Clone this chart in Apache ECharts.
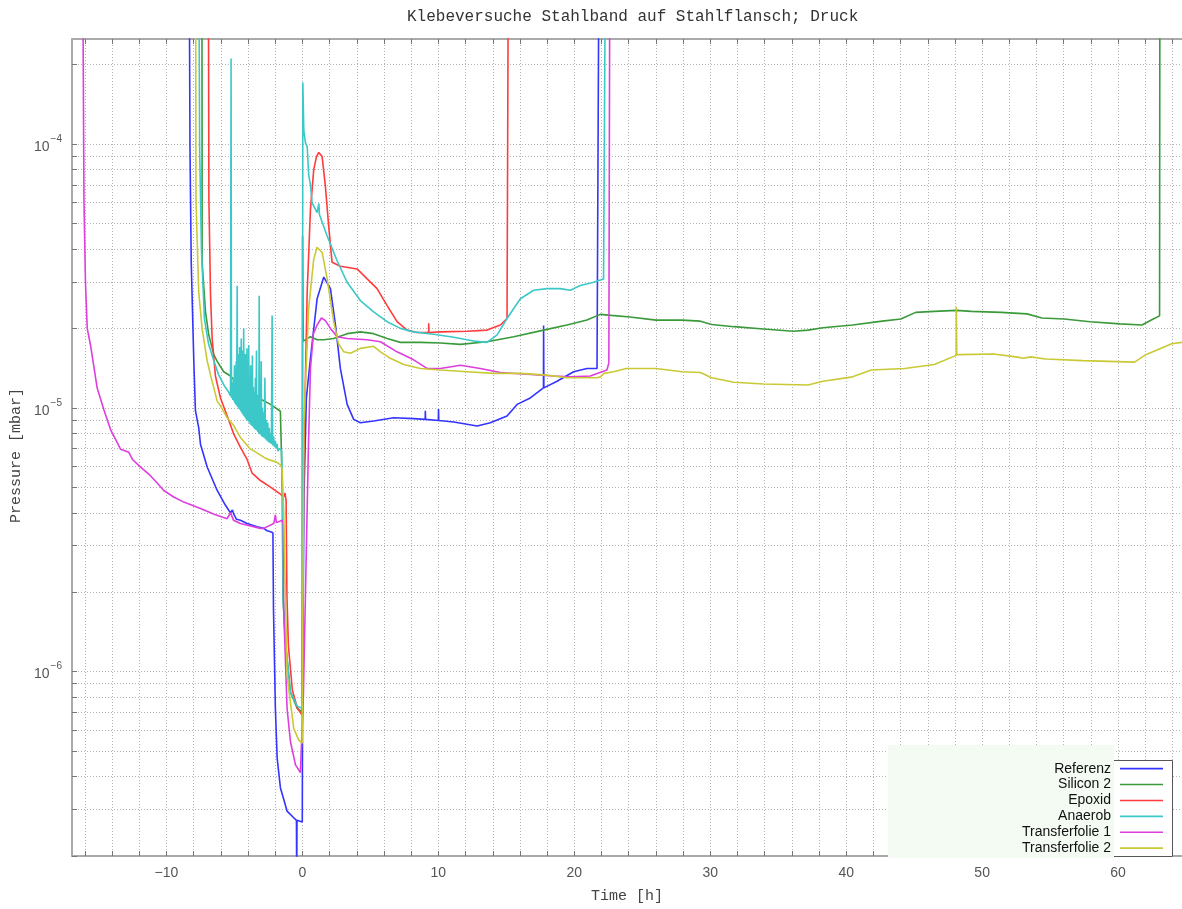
<!DOCTYPE html>
<html><head><meta charset="utf-8">
<script src="https://cdn.jsdelivr.net/npm/echarts@6/dist/echarts.min.js"></script>
<style>html,body{margin:0;padding:0;background:#fff}#c{width:1182px;height:909px}</style>
</head><body><div id="c"></div>
<script>
// ---- data: [time in h, pressure in mbar] ----
const seriesNames = ['Referenz','Silicon 2','Epoxid','Anaerob','Transferfolie 1','Transferfolie 2'];
const xTickLabels = [-10,0,10,20,30,40,50,60];
const yTickLabels = [1e-6,1e-5,1e-4];

const referenz = [[-8.31,3e-4],[-8.27,9.5e-5],[-8.18,3.56e-5],[-7.99,1.5e-5],[-7.87,9.75e-6],[-7.63,8.41e-6],[-7.5,7.28e-6],[-7.0,5.95e-6],[-6.27,4.86e-6],[-5.66,4.27e-6],[-5.42,4.09e-6],[-5.29,4.0e-6],[-5.15,4.1e-6],[-5.05,3.95e-6],[-4.85,3.78e-6],[-4.56,3.75e-6],[-4.07,3.64e-6],[-3.33,3.54e-6],[-2.85,3.49e-6],[-2.6,3.42e-6],[-2.35,3.39e-6],[-2.17,3.36e-6],[-2.13,1.73e-6],[-1.99,7.26e-7],[-1.86,4.71e-7],[-1.62,3.63e-7],[-1.13,2.96e-7],[-0.66,2.8e-7],[-0.44,2.73e-7],[-0.42,1.5e-7],[-0.4,2.73e-7],[-0.29,2.7e-7],[-0.01,2.69e-7],[0.01,8.1e-7],[0.11,4.59e-6],[0.29,1.09e-5],[0.59,1.54e-5],[1.08,2.59e-5],[1.57,3.13e-5],[1.69,3.15e-5],[2.06,2.83e-5],[2.43,2.06e-5],[2.79,1.41e-5],[3.29,1.03e-5],[3.77,9.04e-6],[4.26,8.78e-6],[5.24,8.91e-6],[6.71,9.17e-6],[8.18,9.1e-6],[9.03,9.04e-6],[9.04,9.75e-6],[9.06,9.04e-6],[10.0,8.95e-6],[10.01,9.9e-6],[10.03,8.95e-6],[11.13,8.83e-6],[12.85,8.53e-6],[13.82,8.78e-6],[15.05,9.31e-6],[15.79,1.03e-5],[16.76,1.09e-5],[17.73,1.19e-5],[17.74,2.05e-5],[17.76,1.19e-5],[18.73,1.26e-5],[19.95,1.37e-5],[20.93,1.41e-5],[21.67,1.41e-5],[21.79,3e-4]];

const silicon2 = [[-7.39,3e-4],[-7.38,9.5e-5],[-7.38,3.56e-5],[-7.13,2.31e-5],[-6.89,1.89e-5],[-6.52,1.59e-5],[-6.27,1.5e-5],[-5.79,1.37e-5],[-5.29,1.32e-5],[-5.05,1.28e-5],[-4.07,1.16e-5],[-3.09,1.08e-5],[-2.35,1.03e-5],[-1.62,9.7e-6],[-1.49,9.6e-6],[-1.47,4.6e-6],[-1.43,1.94e-6],[-1.25,1.29e-6],[-0.88,8.35e-7],[-0.39,7.26e-7],[-0.02,7.03e-7],[0.01,4.47e-5],[0.06,1.79e-5],[0.59,1.86e-5],[1.08,1.81e-5],[1.57,1.81e-5],[2.3,1.83e-5],[3.29,1.91e-5],[4.26,1.94e-5],[5.24,1.91e-5],[6.23,1.83e-5],[7.21,1.77e-5],[8.68,1.77e-5],[10.15,1.76e-5],[11.62,1.74e-5],[13.58,1.78e-5],[15.54,1.86e-5],[17.74,1.97e-5],[19.46,2.06e-5],[20.93,2.15e-5],[21.91,2.26e-5],[22.72,2.24e-5],[24.1,2.21e-5],[26.01,2.15e-5],[27.92,2.15e-5],[29.28,2.13e-5],[30.1,2.07e-5],[31.74,2.03e-5],[33.92,1.99e-5],[36.1,1.95e-5],[37.2,1.97e-5],[38.29,2.01e-5],[40.47,2.06e-5],[42.65,2.13e-5],[44.02,2.17e-5],[45.11,2.30e-5],[46.48,2.32e-5],[48.11,2.34e-5],[49.21,2.32e-5],[51.39,2.30e-5],[53.3,2.27e-5],[54.39,2.19e-5],[56.03,2.17e-5],[57.94,2.12e-5],[60.13,2.08e-5],[61.76,2.06e-5],[62.58,2.17e-5],[63.05,2.23e-5],[63.07,3e-4]];

const epoxid = [[-6.91,3e-4],[-6.88,6.16e-5],[-6.76,2.67e-5],[-6.64,1.83e-5],[-6.4,1.32e-5],[-6.03,1.09e-5],[-5.54,9.33e-6],[-5.05,7.94e-6],[-4.56,7.08e-6],[-4.07,6.37e-6],[-3.7,5.65e-6],[-3.09,5.3e-6],[-2.35,5.0e-6],[-1.62,4.71e-6],[-1.38,4.59e-6],[-1.28,4.75e-6],[-1.2,4.45e-6],[-1.14,1.94e-6],[-1.03,1.25e-6],[-0.74,8.5e-7],[-0.37,7.26e-7],[-0.02,6.84e-7],[0.1,6.49e-6],[0.35,2.75e-5],[0.59,5.65e-5],[0.83,7.98e-5],[1.03,8.93e-5],[1.2,9.29e-5],[1.45,8.96e-5],[1.69,6.91e-5],[1.93,4.89e-5],[2.18,3.56e-5],[2.79,3.44e-5],[4.02,3.36e-5],[4.76,3.08e-5],[5.49,2.83e-5],[6.23,2.44e-5],[6.96,2.12e-5],[7.7,1.97e-5],[8.43,1.93e-5],[9.28,1.93e-5],[9.29,2.09e-5],[9.3,1.93e-5],[10.15,1.94e-5],[12.11,1.95e-5],[13.58,1.97e-5],[14.56,2.06e-5],[15.05,2.18e-5],[15.13,3e-4]];

const anaerob = [[-7.6,3e-4],[-7.56,9.5e-5],[-7.43,3.99e-5],[-7.21,2.18e-5],[-6.91,1.75e-5],[-6.54,1.52e-5],[-6.18,1.34e-5],[-5.74,1.21e-5],[-5.44,1.15e-5],
[-5.29,1.11e-5],[-5.25,2.11e-4],[-5.22,1.09e-5],[-5.16,1.25e-5],[-5.12,1.07e-5],[-5.07,1.3e-5],[-5.03,1.06e-5],[-5.0,1.45e-5],[-4.97,1.04e-5],[-4.93,1.38e-5],[-4.9,1.03e-5],[-4.87,1.5e-5],[-4.84,1.02e-5],[-4.8,2.9e-5],[-4.77,1.01e-5],[-4.74,1.6e-5],[-4.71,1.0e-5],[-4.68,1.45e-5],[-4.65,9.9e-6],[-4.62,1.7e-5],[-4.59,9.8e-6],[-4.56,1.55e-5],[-4.53,9.7e-6],[-4.5,1.83e-5],[-4.47,9.6e-6],[-4.44,1.4e-5],[-4.41,9.5e-6],[-4.38,1.65e-5],[-4.35,9.4e-6],[-4.32,2.0e-5],[-4.29,9.3e-6],[-4.26,1.45e-5],[-4.23,9.2e-6],[-4.2,1.6e-5],[-4.17,9.1e-6],[-4.14,1.3e-5],[-4.11,9.0e-6],[-4.08,1.68e-5],[-4.05,8.95e-6],[-4.02,1.35e-5],[-3.98,8.9e-6],[-3.95,1.73e-5],[-3.92,8.8e-6],[-3.88,1.3e-5],[-3.85,8.7e-6],[-3.81,1.45e-5],[-3.78,8.6e-6],[-3.74,1.25e-5],[-3.71,8.55e-6],[-3.68,1.58e-5],[-3.65,8.5e-6],[-3.61,1.2e-5],[-3.58,8.4e-6],[-3.54,1.15e-5],[-3.51,8.3e-6],[-3.46,1.3e-5],[-3.42,8.25e-6],[-3.38,1.65e-5],[-3.35,8.2e-6],[-3.31,1.12e-5],[-3.28,8.1e-6],[-3.24,1.1e-5],[-3.21,8.0e-6],[-3.18,2.66e-5],[-3.15,7.95e-6],[-3.1,1.05e-5],[-3.07,7.9e-6],[-3.03,1.5e-5],[-3.0,7.8e-6],[-2.95,1.0e-5],[-2.91,7.75e-6],[-2.86,9.6e-6],[-2.82,7.7e-6],[-2.76,1.3e-5],[-2.72,7.6e-6],[-2.66,9.0e-6],[-2.61,7.5e-6],[-2.55,8.8e-6],[-2.5,7.4e-6],[-2.44,8.4e-6],[-2.39,7.35e-6],[-2.33,8.0e-6],[-2.28,7.3e-6],[-2.23,2.24e-5],[-2.19,7.2e-6],[-2.12,7.8e-6],[-2.06,7.1e-6],[-1.99,7.5e-6],[-1.93,7.0e-6],[-1.86,7.3e-6],[-1.8,6.85e-6],[-1.74,7.0e-6],[-1.66,6.9e-6],[-1.6,7.1e-6],[-1.53,6.9e-6],
[-1.48,4.6e-6],[-1.43,1.94e-6],[-1.25,1.29e-6],[-0.88,8.35e-7],[-0.39,7.4e-7],[-0.06,7.26e-7],[-0.02,8.1e-7],
[0.03,1.71e-4],[0.1,1.13e-4],[0.22,1.01e-4],[0.35,9.77e-5],[0.46,7.64e-5],[0.59,7.02e-5],[0.71,5.98e-5],[1.08,5.49e-5],[1.21,5.95e-5],[1.25,5.4e-5],[1.32,5.33e-5],[1.82,4.48e-5],[2.55,3.61e-5],[3.29,2.99e-5],[4.26,2.55e-5],[5.24,2.31e-5],[6.23,2.12e-5],[7.21,2.0e-5],[8.18,1.94e-5],[9.65,1.90e-5],[11.13,1.85e-5],[12.6,1.79e-5],[13.58,1.77e-5],[14.32,1.89e-5],[15.05,2.18e-5],[16.03,2.59e-5],[17.01,2.79e-5],[17.99,2.83e-5],[18.97,2.83e-5],[19.71,2.79e-5],[20.44,2.91e-5],[21.42,2.99e-5],[22.15,3.08e-5],[22.26,3e-4]];

const transferfolie1 = [[-16.14,3e-4],[-16.07,6.16e-5],[-15.96,3.0e-5],[-15.83,2.0e-5],[-15.59,1.73e-5],[-15.1,1.19e-5],[-14.6,9.8e-6],[-14.12,8.29e-6],[-13.38,6.97e-6],[-12.77,6.78e-6],[-12.5,6.37e-6],[-11.91,5.96e-6],[-11.3,5.61e-6],[-10.7,5.2e-6],[-10.2,4.86e-6],[-9.5,4.6e-6],[-8.73,4.39e-6],[-7.5,4.15e-6],[-6.5,3.95e-6],[-5.54,3.8e-6],[-5.29,4.0e-6],[-5.07,3.75e-6],[-4.56,3.64e-6],[-3.09,3.49e-6],[-2.85,3.49e-6],[-2.11,3.64e-6],[-1.99,3.93e-6],[-1.91,3.67e-6],[-1.49,3.75e-6],[-1.4,3.6e-6],[-1.38,1.73e-6],[-1.13,7.26e-7],[-0.88,5.42e-7],[-0.51,4.43e-7],[-0.15,4.14e-7],[-0.02,4.14e-7],[0.07,8.1e-7],[0.22,1.93e-6],[0.44,7.08e-6],[0.59,1.41e-5],[0.81,1.91e-5],[1.08,2.06e-5],[1.4,2.19e-5],[1.69,2.14e-5],[2.06,2.0e-5],[2.55,1.86e-5],[3.29,1.83e-5],[4.76,1.81e-5],[5.74,1.78e-5],[6.96,1.63e-5],[8.18,1.52e-5],[9.17,1.41e-5],[10.15,1.41e-5],[11.62,1.45e-5],[13.09,1.41e-5],[14.56,1.36e-5],[16.52,1.34e-5],[18.48,1.32e-5],[19.71,1.31e-5],[21.18,1.32e-5],[22.4,1.39e-5],[22.54,1.48e-5],[22.6,3e-4]];

const transferfolie2 = [[-7.85,3e-4],[-7.83,6.16e-5],[-7.63,2.75e-5],[-7.38,2.0e-5],[-7.0,1.5e-5],[-6.76,1.33e-5],[-6.52,1.19e-5],[-6.27,1.06e-5],[-6.03,1.017e-5],[-5.54,9.17e-6],[-5.05,8.56e-6],[-4.56,7.72e-6],[-3.82,6.97e-6],[-3.58,6.87e-6],[-2.85,6.5e-6],[-2.6,6.4e-6],[-1.86,6.21e-6],[-1.62,6.08e-6],[-1.49,5.86e-6],[-1.38,4.09e-6],[-1.13,9.66e-7],[-0.64,6.09e-7],[-0.27,5.5e-7],[-0.02,5.35e-7],[0.1,8.65e-6],[0.46,2.38e-5],[0.83,3.66e-5],[1.07,4.06e-5],[1.45,3.88e-5],[1.82,3.08e-5],[2.3,2.12e-5],[2.65,1.75e-5],[3.04,1.63e-5],[3.53,1.61e-5],[4.26,1.68e-5],[5.24,1.71e-5],[5.74,1.63e-5],[6.47,1.54e-5],[7.45,1.46e-5],[8.68,1.41e-5],[10.15,1.39e-5],[12.11,1.37e-5],[14.07,1.35e-5],[16.03,1.35e-5],[17.99,1.33e-5],[19.46,1.30e-5],[20.44,1.30e-5],[21.67,1.30e-5],[21.91,1.31e-5],[22.18,1.35e-5],[22.89,1.37e-5],[23.82,1.41e-5],[26.01,1.41e-5],[27.92,1.37e-5],[29.28,1.36e-5],[30.1,1.30e-5],[31.74,1.25e-5],[33.92,1.23e-5],[37.2,1.22e-5],[38.29,1.26e-5],[40.47,1.31e-5],[41.84,1.39e-5],[44.29,1.41e-5],[46.48,1.46e-5],[48.09,1.58e-5],[48.1,2.41e-5],[48.13,1.59e-5],[48.38,1.59e-5],[50.85,1.60e-5],[52.48,1.56e-5],[53.03,1.54e-5],[53.57,1.56e-5],[54.66,1.53e-5],[57.4,1.51e-5],[61.21,1.49e-5],[62.04,1.59e-5],[63.94,1.75e-5],[64.7,1.77e-5]];

// ---- layout / style ----
const allData = [referenz, silicon2, epoxid, anaerob, transferfolie1, transferfolie2];
const colors = ['#3434ff','#3a9a3a','#ff3b3b','#3cc8c8','#dd3edd','#c9c936'];
const X_MIN = -16.95, X_MAX = 64.7, Y_MIN = 2e-7, Y_MAX = 2.5e-4;

const xGrid = [];
for (let v = -16; v <= 64; v += 2) xGrid.push(v);
const yGrid = [];
for (let e = -7; e <= -4; e++) for (let m = 1; m <= 9; m++) {
  const v = +(m * Math.pow(10, e)).toPrecision(3);
  if (v >= Y_MIN && v <= Y_MAX) yGrid.push(v);
}

const chart = echarts.init(document.getElementById('c'), null, {renderer: 'canvas'});
const gridColor = '#b4b4b4';
const option = {
  animation: false,
  backgroundColor: '#fff',
  title: {
    text: 'Klebeversuche Stahlband auf Stahlflansch; Druck',
    left: 402, top: 4,
    textStyle: {fontFamily: 'Liberation Mono', fontSize: 16, fontWeight: 'normal', color: '#333'}
  },
  grid: {left: 72, top: 39, right: 0, bottom: 50, containLabel: false},
  legend: {
    data: seriesNames, orient: 'vertical', align: 'right', icon: 'rect',
    right: 19, top: 761, padding: 0, itemWidth: 43, itemHeight: 1.6, itemGap: 0.6, z: 10,
    textStyle: {fontFamily: 'Liberation Sans', fontSize: 14, lineHeight: 15.3, color: '#111', padding: [0, 4, 0, 0]}
  },
  xAxis: [{
    type: 'value', min: X_MIN, max: X_MAX, position: 'bottom',
    axisLine: {show: true, onZero: false, lineStyle: {color: '#aaa', width: 2}},
    axisTick: {show: true, inside: true, length: 5, customValues: xGrid, lineStyle: {color: '#777'}},
    axisLabel: {customValues: xTickLabels, color: '#555', fontSize: 14, fontFamily: 'Liberation Sans', margin: 10,
      formatter: v => (v < 0 ? '\u2212' + Math.abs(v) : String(v))},
    splitLine: {show: true, lineStyle: {color: gridColor, type: [1, 2], width: 1}},
    name: 'Time [h]', nameLocation: 'middle', nameGap: 33,
    nameTextStyle: {fontFamily: 'Liberation Mono', fontSize: 15, color: '#444'}
  }, {
    type: 'value', min: X_MIN, max: X_MAX, position: 'top',
    axisLine: {show: true, onZero: false, lineStyle: {color: '#aaa', width: 2}},
    axisTick: {show: true, inside: true, length: 5, customValues: xGrid, lineStyle: {color: '#777'}},
    axisLabel: {show: false}, splitLine: {show: false}
  }],
  yAxis: [{
    type: 'log', logBase: 10, min: Y_MIN, max: Y_MAX,
    axisLine: {show: true, onZero: false, lineStyle: {color: '#aaa', width: 2}},
    axisTick: {show: true, inside: true, length: 5, customValues: yGrid, lineStyle: {color: '#777'}},
    axisLabel: {
      customValues: yTickLabels, color: '#555', margin: 10,
      formatter: v => { const e = Math.round(Math.log10(v)); return '{b|10}{s|' + (e < 0 ? '\u2212' : '') + Math.abs(e) + '}'; },
      rich: {
        b: {fontFamily: 'Liberation Sans', fontSize: 14, color: '#555', lineHeight: 20, verticalAlign: 'bottom'},
        s: {fontFamily: 'Liberation Sans', fontSize: 10, color: '#555', lineHeight: 20, verticalAlign: 'top', padding: [0, 0, 0, 1]}
      }
    },
    splitLine: {show: true, lineStyle: {color: gridColor, type: [1, 2], width: 1}},
    name: 'Pressure [mbar]', nameLocation: 'middle', nameGap: 48, nameRotate: 90,
    nameTextStyle: {fontFamily: 'Liberation Mono', fontSize: 15, color: '#444', padding: [0, 16, 0, 0]}
  }],
  graphic: {elements: [
    {type: 'rect', z: 5, shape: {x: 888, y: 745, width: 226, height: 113}, style: {fill: '#f3fbf3'}},
    {type: 'rect', z: 5, shape: {x: 1114, y: 760, width: 59, height: 97}, style: {fill: '#ffffff'}},
    {type: 'polyline', z: 6, shape: {points: [[1114, 760.5], [1172.5, 760.5], [1172.5, 856.5], [1114, 856.5]]}, style: {stroke: '#555', lineWidth: 1, fill: null}}
  ]},
  series: seriesNames.map((name, i) => ({
    name, type: 'line', data: allData[i], symbol: 'none', showSymbol: false,
    clip: true, color: colors[i], lineStyle: {color: colors[i], width: 1.6}, z: 2 + i * 0.01
  }))
};
chart.setOption(option);
</script>
</body></html>
